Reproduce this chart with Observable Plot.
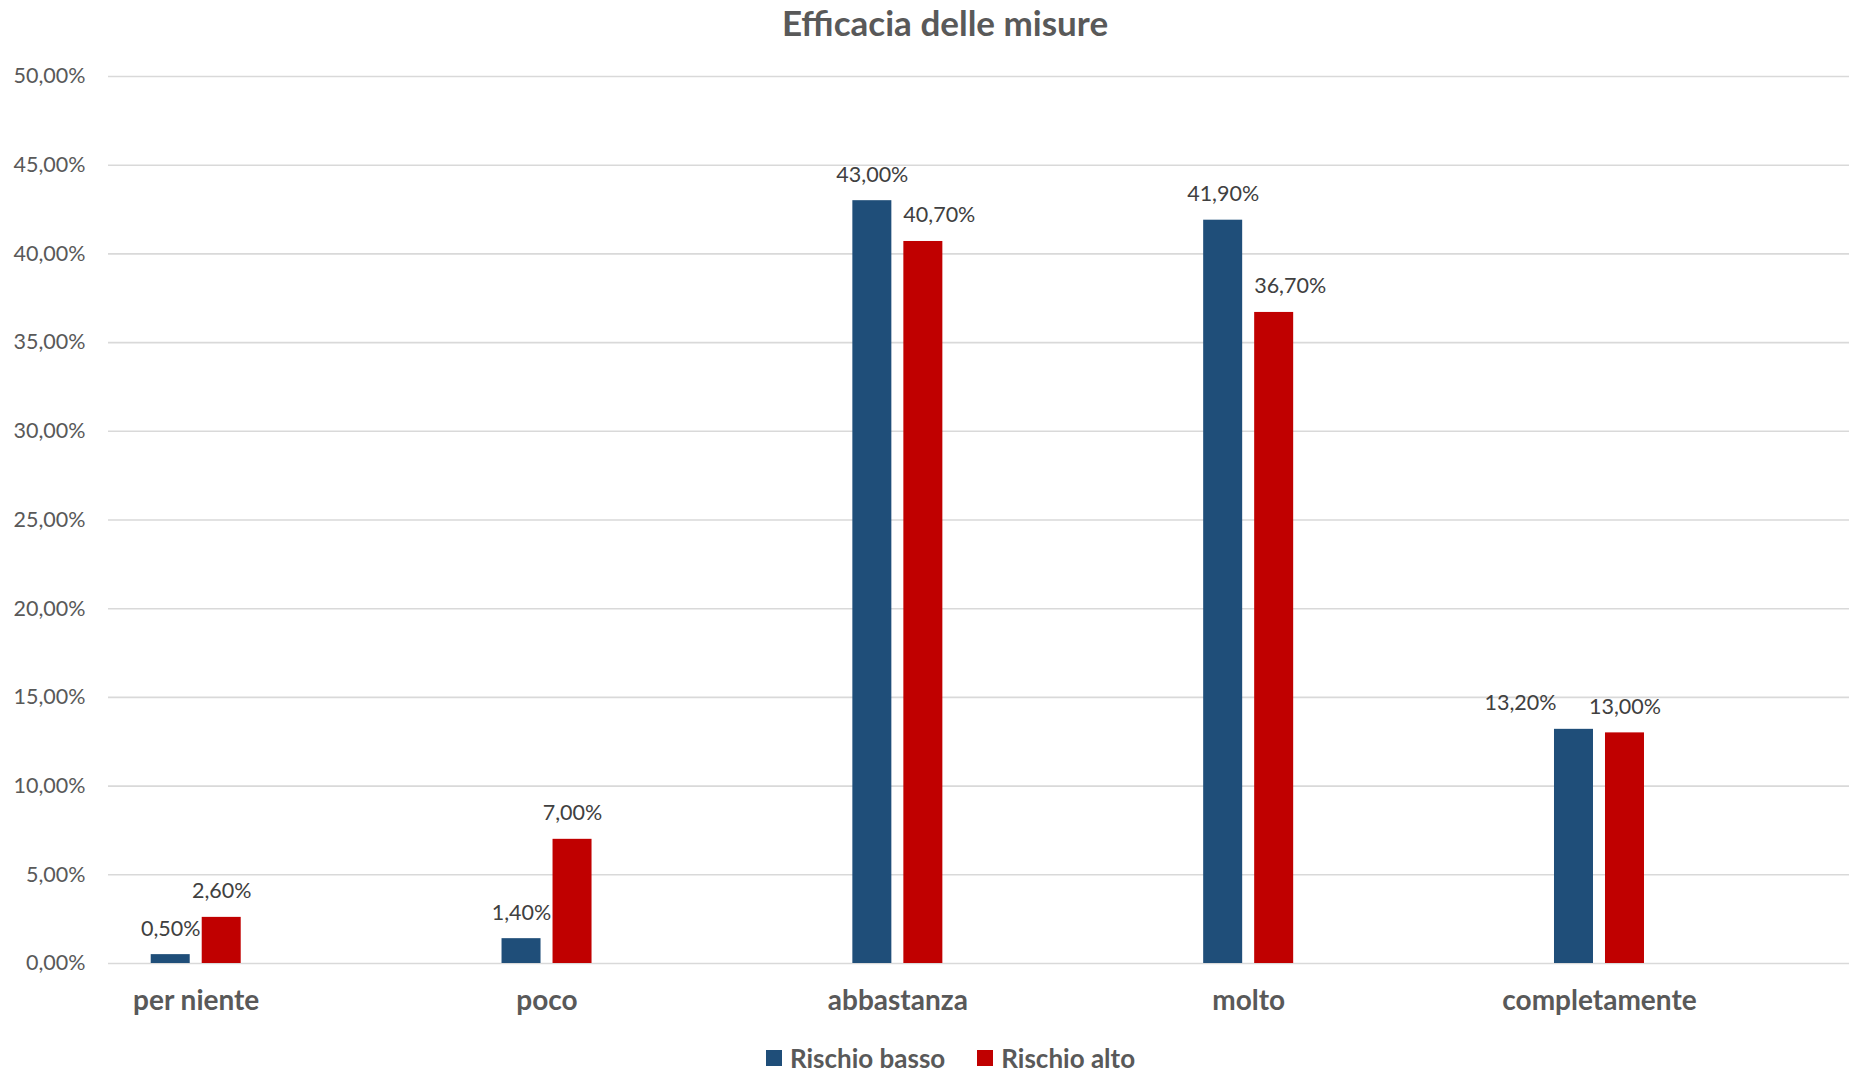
<!DOCTYPE html>
<html lang="it">
<head>
<meta charset="utf-8">
<title>Efficacia delle misure</title>
<script src="https://cdn.jsdelivr.net/npm/d3@7"></script>
<script src="https://cdn.jsdelivr.net/npm/@observablehq/plot@0.6"></script>
<style>
  html, body { margin: 0; padding: 0; background: #fff; }
  body { width: 1849px; height: 1073px; overflow: hidden; font-family: Lato, "Open Sans", sans-serif; }
  #wrap { position: relative; width: 1849px; height: 1073px; }
  #title {
    position: absolute; left: 0; width: 1890px; top: 0px; text-align: center;
    font-size: 35px; font-weight: 700; color: #595959; line-height: 44px;
  }
  #legend {
    position: absolute; left: 0; width: 1901px; top: 1042px; display: flex;
    justify-content: center; align-items: center; gap: 32px;
    font-size: 26px; font-weight: 700; color: #595959; line-height: 32px;
  }
  #legend .item { display: flex; align-items: center; gap: 8px; }
  #legend .sw { width: 16px; height: 16px; display: inline-block; }
  #chart { position: absolute; left: 0; top: 0; }
</style>
</head>
<body>
<div id="wrap">
  <div id="chart"></div>
  <div id="title">Efficacia delle misure</div>
  <div id="legend"></div>
</div>
<script>
// Risposte per livello di efficacia percepita, in quota sul totale
const categories = ["per niente", "poco", "abbastanza", "molto", "completamente"];
const seriesNames = ["Rischio basso", "Rischio alto"];
const rischioBasso = [0.005, 0.014, 0.430, 0.419, 0.132];
const rischioAlto  = [0.026, 0.070, 0.407, 0.367, 0.130];
const yTicks = [0, 0.05, 0.10, 0.15, 0.20, 0.25, 0.30, 0.35, 0.40, 0.45, 0.50];
const colors = ["#1F4E79", "#C00000"];

const rows = [
  ...categories.map((c, i) => ({category: c, series: seriesNames[0], value: rischioBasso[i]})),
  ...categories.map((c, i) => ({category: c, series: seriesNames[1], value: rischioAlto[i]}))
];

// Formato percentuale all'italiana: 43,00%
const pct = d => (d * 100).toFixed(2).replace(".", ",") + "%";

const W = 1849, H = 1073;
const xRange = [20.3, 1774.4];
const band = (xRange[1] - xRange[0]) / categories.length;
const barW = 39;
const gap = 12;
const inset = (band - barW) / 2;
const shift = (barW + gap) / 2;
const labelFont = 21.5;
const labelLift = -26;

const isBasso = d => d.series === seriesNames[0];
const isAlto = d => d.series === seriesNames[1];
// Etichette spostate di lato per non sovrapporsi alle barre vicine
const bassoMoved = d => isBasso(d) && d.category === "completamente";
const altoMoved = d => isAlto(d) && (d.category === "abbastanza" || d.category === "molto");

const labelOpts = (dx) => ({
  x: "category", y: "value", text: d => pct(d.value),
  dx, dy: labelLift, fontSize: labelFont, fill: "#404040"
});

const chart = Plot.plot({
  width: W,
  height: H,
  marginLeft: 108,
  marginRight: 0,
  marginTop: 76,
  marginBottom: 110,
  style: {fontFamily: "Lato, 'Open Sans', sans-serif", background: "transparent"},
  x: {domain: categories, range: xRange, padding: 0, round: false, axis: null},
  y: {domain: [0, 0.5], axis: null},
  marks: [
    Plot.gridY(yTicks, {stroke: "#d9d9d9", strokeOpacity: 1, strokeWidth: 1.6}),
    Plot.axisY(yTicks, {
      tickSize: 0, tickPadding: 23, tickFormat: pct, label: null,
      fontSize: 21.5, fill: "#595959"
    }),
    Plot.barY(rows.filter(isBasso), {
      x: "category", y: "value", fill: colors[0],
      insetLeft: inset, insetRight: inset, dx: -shift
    }),
    Plot.barY(rows.filter(isAlto), {
      x: "category", y: "value", fill: colors[1],
      insetLeft: inset, insetRight: inset, dx: shift
    }),
    // Etichette dei valori sopra le barre
    Plot.text(rows.filter(d => isBasso(d) && !bassoMoved(d)), labelOpts(-shift)),
    Plot.text(rows.filter(bassoMoved), labelOpts(-shift - 53.5)),
    Plot.text(rows.filter(d => isAlto(d) && !altoMoved(d)), labelOpts(shift)),
    Plot.text(rows.filter(altoMoved), labelOpts(shift + 16)),
    Plot.axisX({
      tickSize: 0, tickPadding: 27, fontSize: 28, fontWeight: "bold",
      fill: "#595959", label: null
    })
  ]
});
document.getElementById("chart").appendChild(chart);

// Legenda
const legend = document.getElementById("legend");
seriesNames.forEach((name, i) => {
  const item = document.createElement("span");
  item.className = "item";
  const sw = document.createElement("span");
  sw.className = "sw";
  sw.style.background = colors[i];
  const label = document.createElement("span");
  label.textContent = name;
  item.appendChild(sw);
  item.appendChild(label);
  legend.appendChild(item);
});
</script>
</body>
</html>
